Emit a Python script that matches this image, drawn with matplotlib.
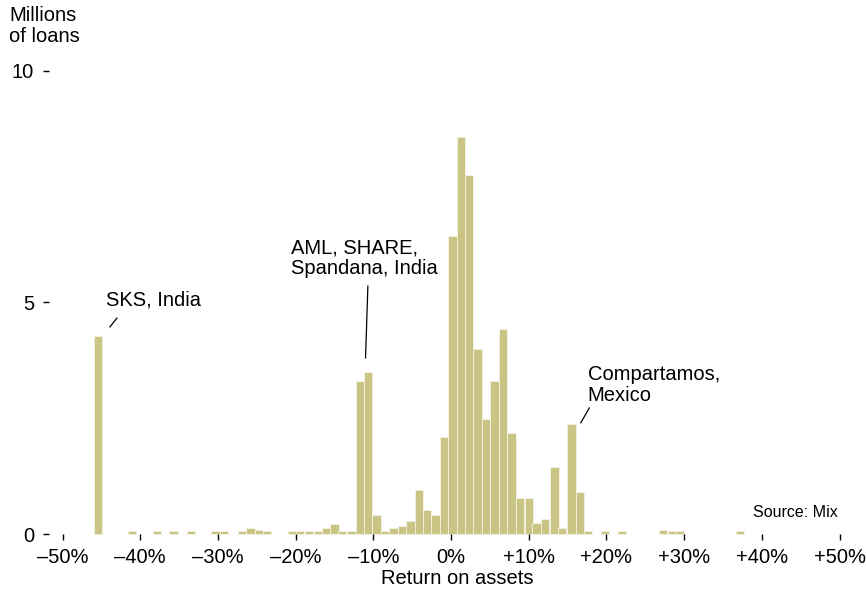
import matplotlib
matplotlib.use("Agg")
import matplotlib.pyplot as plt

plt.rcParams['font.family'] = ['Liberation Sans', 'DejaVu Sans']

# return on assets, % (bin centres) and millions of loans in each bin
bin_centers = [-45.4, -41.1, -37.8, -35.7, -33.5, -30.3, -29.2, -26.9, -25.8, -24.7,
               -23.7, -20.4, -19.4, -18.3, -17.1, -16.1, -15.0, -14.0, -12.8, -11.7,
               -10.7, -9.6, -8.5, -7.4, -6.3, -5.2, -4.1, -3.1, -2.0, -0.9,
               0.2, 1.3, 2.3, 3.4, 4.5, 5.6, 6.7, 7.8, 8.9, 10.0,
               11.0, 12.1, 13.3, 14.3, 15.5, 16.6, 17.6, 19.8, 22.0, 27.3,
               28.4, 29.4, 37.2]
loans = [4.27, 0.06, 0.06, 0.06, 0.06, 0.06, 0.06, 0.06, 0.13, 0.09,
         0.06, 0.06, 0.06, 0.06, 0.06, 0.13, 0.22, 0.06, 0.06, 3.30,
         3.50, 0.40, 0.06, 0.13, 0.17, 0.29, 0.94, 0.52, 0.40, 2.10,
         6.43, 8.56, 7.75, 4.00, 2.49, 3.30, 4.42, 2.17, 0.78, 0.78,
         0.24, 0.33, 1.45, 0.14, 2.37, 0.91, 0.06, 0.06, 0.06, 0.09,
         0.06, 0.06, 0.06]

x_ticks = [-50, -40, -30, -20, -10, 0, 10, 20, 30, 40, 50]
x_labels = ['\u201350%', '\u201340%', '\u201330%', '\u201320%', '\u201310%', '0%',
            '+10%', '+20%', '+30%', '+40%', '+50%']
y_ticks = [0, 5, 10]

W, H = 866, 594
fig = plt.figure(figsize=(W / 100, H / 100), dpi=100)
ax = fig.add_axes([49 / W, (H - 534) / H, (W - 49) / W, (534 - 60) / H])

ax.bar(bin_centers, loans, width=1.07, color='#cbc585', edgecolor='#f4f2e4',
       linewidth=0.6, clip_on=False)

ax.set_xlim(-51.74, 53.41)
ax.set_ylim(0, 10.23)
for s in ax.spines.values():
    s.set_visible(False)

ax.set_xticks(x_ticks)
ax.set_xticklabels(x_labels)
ax.set_yticks(y_ticks)
ax.tick_params(axis='both', labelsize=14.5, colors='black', length=4.3, width=1.0,
               direction='out')
ax.tick_params(axis='x', pad=5.5)
ax.tick_params(axis='y', pad=6.5)
ax.set_xlabel('Return on assets', fontsize=14.5, labelpad=2)

fig.text(9 / W, 1 - 6 / H, 'Millions\nof loans', fontsize=14.5, va='top', ha='left',
         linespacing=1.15)

# annotations
ax.text(-44.4, 5.05, 'SKS, India', fontsize=14.5, va='center', ha='left')
ax.plot([-43.9, -43.0], [4.47, 4.66], color='black', lw=0.9)

ax.text(-20.6, 5.95, 'AML, SHARE,\nSpandana, India', fontsize=14.5, va='center',
        ha='left', linespacing=1.15)
ax.plot([-10.7, -11.0], [5.35, 3.80], color='black', lw=0.9)

ax.text(17.6, 3.22, 'Compartamos,\nMexico', fontsize=14.5, va='center', ha='left',
        linespacing=1.15)
ax.plot([17.8, 16.7], [2.72, 2.40], color='black', lw=0.9)

ax.text(49.8, 0.47, 'Source: Mix', fontsize=11.5, va='center', ha='right')

fig.savefig('out.png', dpi=100)
